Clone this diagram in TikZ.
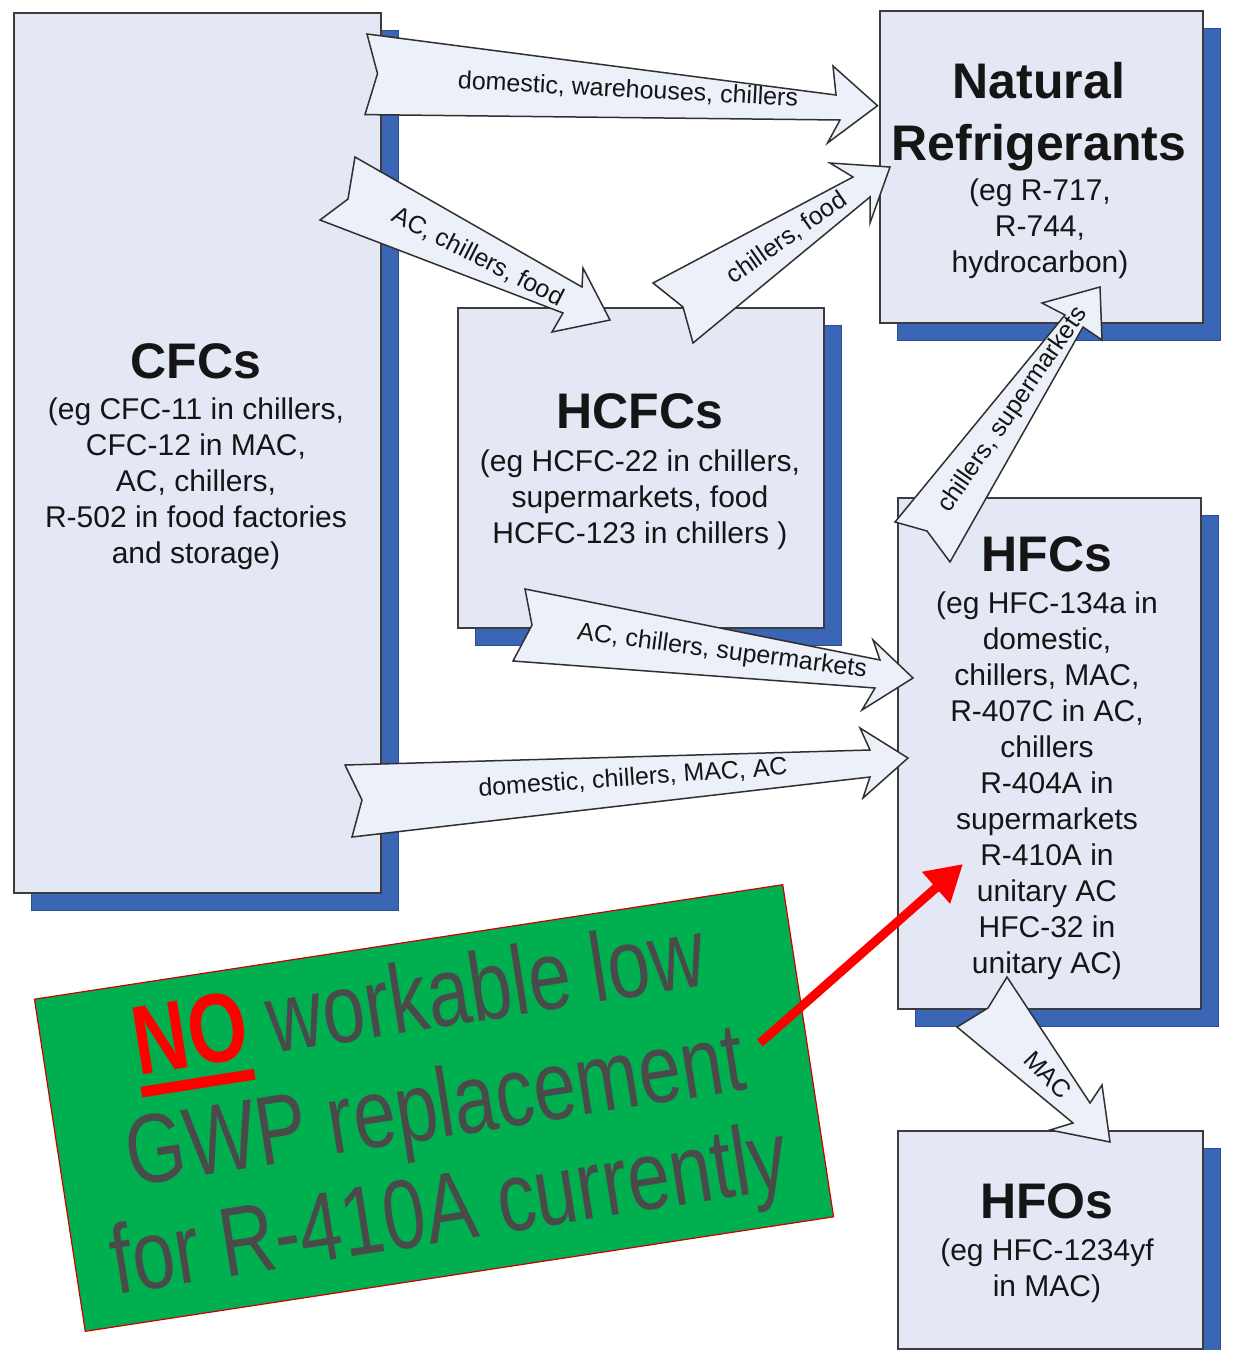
\documentclass[tikz,border=0pt]{standalone}
\usepackage{fontspec}
\setmainfont{Liberation Sans}
\newfontfamily\narrowfont[FakeStretch=0.78]{Liberation Sans}
\usetikzlibrary{arrows.meta,shadows}
\definecolor{boxfill}{HTML}{E3E8F4}
\definecolor{boxline}{HTML}{3C3C3C}
\definecolor{shadowblue}{HTML}{3B65B5}
\definecolor{shadowedge}{HTML}{2C4E90}
\definecolor{arrowfill}{HTML}{ECF0F8}
\definecolor{arrowline}{HTML}{303030}
\definecolor{notegreen}{HTML}{00AF50}
\definecolor{notegray}{HTML}{4A4A4A}
\definecolor{txtdark}{HTML}{151515}
\newcommand\myredul[1]{\setbox0=\hbox{#1}\rlap{\rule[-0.23em]{\wd0}{0.11em}}\box0}
\begin{document}
\begin{tikzpicture}[x=1pt,y=-1pt,
  refbox/.style={draw=boxline, line width=1.5pt, fill=boxfill, inner sep=0pt, anchor=north west,
    general shadow={fill=shadowblue, draw=shadowedge, line width=0.8pt, shadow xshift=18pt, shadow yshift=-18pt}},
  titletxt/.style={font=\fontsize{50}{56}\selectfont\bfseries, text=txtdark, inner sep=0pt, anchor=base},
  bodytxt/.style={font=\fontsize{30}{36}\selectfont, text=txtdark, align=center, inner sep=0pt},
  blockarr/.style={draw=arrowline, fill=arrowfill, line width=1.5pt, line join=miter},
  arrlabel/.style={font=\fontsize{25}{28}\selectfont, text=txtdark, inner sep=0pt},
  notebox/.style={draw=red!80!black, line width=1.2pt, fill=notegreen, inner sep=0pt},
  notetxt/.style={font=\narrowfont\fontsize{98}{107}\selectfont, text=notegray, inner sep=0pt, anchor=base, rotate=9},
  redarrow/.style={draw=red, line width=9pt, -{Triangle[length=36pt,width=40pt]}}
]
\useasboundingbox (0,0) rectangle (1258,1350);
\clip (0,0) rectangle (1258,1350);
\fill[white] (0,0) rectangle (1258,1350);

% boxes
\node[refbox, minimum width=367pt, minimum height=880pt] (cfc) at (13,12) {};
\node[refbox, minimum width=366pt, minimum height=320pt] (hcfc) at (457,307) {};
\node[refbox, minimum width=323pt, minimum height=312pt] (nat) at (879,10) {};
\node[refbox, minimum width=303pt, minimum height=511pt] (hfc) at (897,497) {};
\node[refbox, minimum width=305pt, minimum height=218pt] (hfo) at (897,1130) {};

% box texts
\node[titletxt] (cfct) at (196,378) {CFCs};
\node[bodytxt] (cfcb) at (196,484) {(eg CFC-11 in chillers,\\CFC-12 in MAC,\\AC, chillers,\\R-502 in food factories\\and storage)};
\node[titletxt] (hcfct) at (640,428) {HCFCs};
\node[bodytxt] (hcfcb) at (640,500) {(eg HCFC-22 in chillers,\\supermarkets, food\\HCFC-123 in chillers )};
\node[titletxt] (natt1) at (1039,98) {Natural};
\node[titletxt] (natt2) at (1039,160) {Refrigerants};
\node[bodytxt] (natb) at (1040,229) {(eg R-717,\\R-744,\\hydrocarbon)};
\node[titletxt] (hfct) at (1047,571) {HFCs};
\node[bodytxt] (hfcb) at (1047,786) {(eg HFC-134a in\\domestic,\\chillers, MAC,\\R-407C in AC,\\chillers\\R-404A in\\supermarkets\\R-410A in\\unitary AC\\HFC-32 in\\unitary AC)};
\node[titletxt] (hfot) at (1047,1218) {HFOs};
\node[bodytxt] (hfob) at (1047,1271) {(eg HFC-1234yf\\in MAC)};

% block arrows
\path[blockarr] (367,34) -- (377.5,73.6) -- (365,114.6) -- (840,120) -- (827.5,143) -- (877.5,105.7) -- (833,66) -- (836,95) -- cycle;
\path[blockarr] (355,157) -- (348,199) -- (320,220) -- (563,313) -- (552,332) -- (610,320) -- (583,268) -- (582,287) -- cycle;
\path[blockarr] (653,283) -- (683,307) -- (693,343) -- (870,197) -- (870,223) -- (890,167) -- (830,163) -- (853,177) -- cycle;
\path[blockarr] (895,522) -- (927,531) -- (950,562) -- (1083,327) -- (1102,340) -- (1100,287) -- (1042,303) -- (1065,315) -- cycle;
\path[blockarr] (525,589) -- (532,625) -- (513,661) -- (875,688) -- (862,710) -- (913,678) -- (873,640) -- (880,660) -- cycle;
\path[blockarr] (345,765) -- (362,800) -- (352,837) -- (870,777) -- (863,798) -- (908,758) -- (860,728) -- (870,750) -- cycle;
\path[blockarr] (1007,977) -- (988,1008) -- (957,1027) -- (1073,1123) -- (1050,1130) -- (1110,1142) -- (1102,1085) -- (1090,1103) -- cycle;

% arrow labels
\node[arrlabel, rotate=-3] (lab1) at (628,90) {domestic, warehouses, chillers};
\node[arrlabel, rotate=-27] (lab2) at (478,257) {AC, chillers, food};
\node[arrlabel, rotate=35] (lab3) at (787,238) {chillers, food};
\node[arrlabel, rotate=55.5] (lab4) at (1013,410) {chillers, supermarkets};
\node[arrlabel, rotate=-7.5] (lab5) at (722,652) {AC, chillers, supermarkets};
\node[arrlabel, rotate=4] (lab6) at (633,778) {domestic, chillers, MAC, AC};
\node[arrlabel, rotate=-46] (lab7) at (1048,1075) {MAC};

% green note
\node[notebox, rotate=8.7, minimum width=757pt, minimum height=336pt] (note) at (434,1108) {};
\node[notetxt] (note1) at (424,1030) {{\color{red}\bfseries\myredul{NO}} workable low};
\node[notetxt] (note2) at (440,1138) {GWP replacement};
\node[notetxt] (note3) at (454,1241) {for R-410A currently};

% red pointer
\coordinate (rs) at (760,1043);
\coordinate (re) at (963,864);
\draw[redarrow] (rs) -- (re);
\end{tikzpicture}
\end{document}
